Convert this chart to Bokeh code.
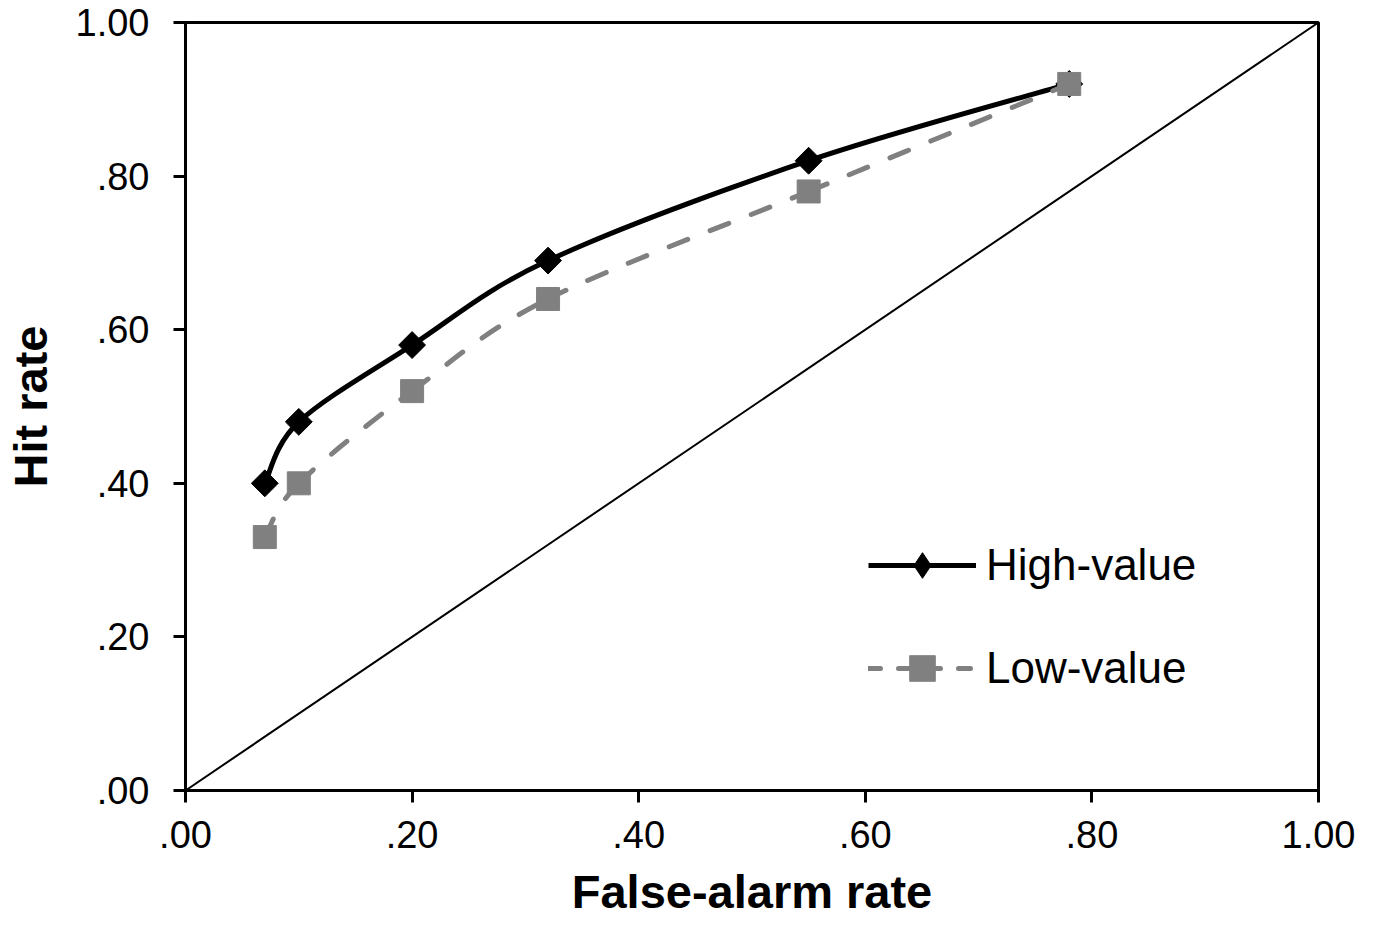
import numpy as np
from bokeh.plotting import figure
from bokeh.models import Range1d, FixedTicker, Legend, LegendItem, ColumnDataSource
from bokeh.embed import file_html
from bokeh.resources import INLINE

# ---- data ----
false_alarm = [0.07, 0.10, 0.20, 0.32, 0.55, 0.78]
hit_high = [0.40, 0.48, 0.58, 0.69, 0.82, 0.92]
hit_low = [0.33, 0.40, 0.52, 0.64, 0.78, 0.92]
tick_values = [0.0, 0.2, 0.4, 0.6, 0.8, 1.0]
tick_labels = [".00", ".20", ".40", ".60", ".80", "1.00"]
chance_x = [0.0, 1.0]
chance_y = [0.0, 1.0]


def smooth_segments(xs, ys):
    """Catmull-Rom style cubic Bezier control points through the data."""
    x = np.asarray(xs, float)
    y = np.asarray(ys, float)
    n = len(x)
    d = dict(x0=[], y0=[], x1=[], y1=[], cx0=[], cy0=[], cx1=[], cy1=[])
    for i in range(n - 1):
        im1 = max(i - 1, 0)
        ip2 = min(i + 2, n - 1)
        d["x0"].append(x[i]); d["y0"].append(y[i])
        d["x1"].append(x[i + 1]); d["y1"].append(y[i + 1])
        d["cx0"].append(x[i] + (x[i + 1] - x[im1]) / 6)
        d["cy0"].append(y[i] + (y[i + 1] - y[im1]) / 6)
        d["cx1"].append(x[i + 1] - (x[ip2] - x[i]) / 6)
        d["cy1"].append(y[i + 1] - (y[ip2] - y[i]) / 6)
    return ColumnDataSource(d)


W, H = 1363, 921
p = figure(width=W, height=H, output_backend="svg", toolbar_location=None,
           x_range=Range1d(0, 1), y_range=Range1d(0, 1),
           min_border_left=185, min_border_right=45,
           min_border_top=22, min_border_bottom=131)
p.background_fill_color = "white"
p.border_fill_color = "white"
p.grid.visible = False
p.outline_line_color = "black"
p.outline_line_width = 3

FONT = "Liberation Sans"
for ax in (p.xaxis[0], p.yaxis[0]):
    ax.ticker = FixedTicker(ticks=tick_values)
    ax.major_label_overrides = {v: l for v, l in zip(tick_values, tick_labels)}
    ax.minor_tick_line_color = None
    ax.axis_line_width = 3
    ax.axis_line_color = "black"
    ax.major_tick_line_width = 3
    ax.major_tick_line_color = "black"
    ax.major_tick_in = 0
    ax.major_tick_out = 12
    ax.major_label_text_font = FONT
    ax.major_label_text_font_size = "38px"
    ax.major_label_text_color = "black"
    ax.axis_label_text_font = FONT
    ax.axis_label_text_font_style = "bold"
    ax.axis_label_text_font_size = "47px"
    ax.axis_label_text_color = "black"

p.xaxis.axis_label = "False-alarm rate"
p.yaxis.axis_label = "Hit rate"
p.xaxis.major_label_standoff = 18
p.yaxis.major_label_standoff = 24
p.xaxis.axis_label_standoff = 14
p.yaxis.axis_label_standoff = 16

# chance diagonal
p.line(chance_x, chance_y, line_color="black", line_width=2)

# High-value (smooth solid black)
hs = smooth_segments(false_alarm, hit_high)
p.bezier(x0="x0", y0="y0", x1="x1", y1="y1", cx0="cx0", cy0="cy0",
         cx1="cx1", cy1="cy1", source=hs, line_color="black", line_width=5)
p.scatter(false_alarm, hit_high, marker="square", angle=np.pi / 4, size=19,
          fill_color="black", line_color="black")

# Low-value (smooth dashed gray)
ls = smooth_segments(false_alarm, hit_low)
p.bezier(x0="x0", y0="y0", x1="x1", y1="y1", cx0="cx0", cy0="cy0",
         cx1="cx1", cy1="cy1", source=ls, line_color="#808080", line_width=5,
         line_dash="20 24", line_cap="round")
p.scatter(false_alarm, hit_low, marker="square", size=23,
          fill_color="#808080", line_color="#808080")

# legend proxies (hidden renderers used only for legend samples)
lh = p.line([0.5], [0.5], line_color="black", line_width=5, visible=False)
lhm = p.scatter([0.5], [0.5], marker="diamond", size=27, fill_color="black",
                line_color="black", visible=False)
ll = p.line([0.5], [0.5], line_color="#808080", line_width=5, line_dash="12 18",
            line_cap="round", visible=False)
llm = p.scatter([0.5], [0.5], marker="square", size=24, fill_color="#808080",
                line_color="#808080", visible=False)
legend = Legend(items=[
    LegendItem(label="High-value", renderers=[lh, lhm]),
    LegendItem(label="Low-value", renderers=[ll, llm]),
], location=(683, 90))
legend.glyph_width = 108
legend.glyph_height = 64
legend.label_height = 44
legend.spacing = 39
legend.padding = 0
legend.margin = 0
legend.label_standoff = 10
legend.border_line_color = None
legend.background_fill_alpha = 0
legend.label_text_font = FONT
legend.label_text_font_size = "44px"
legend.label_text_color = "black"
p.add_layout(legend)

open("out.html", "w").write(file_html(p, INLINE))
